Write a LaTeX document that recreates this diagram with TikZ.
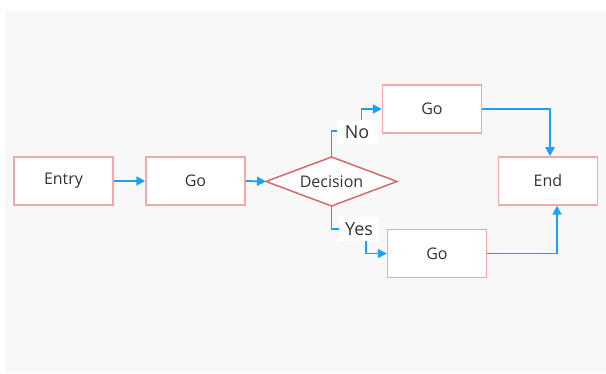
\documentclass[tikz,border=0pt]{standalone}
\usepackage{fontspec}
\setmainfont{Open Sans}
\usetikzlibrary{arrows.meta}
\definecolor{panel}{HTML}{F8F8F8}
\definecolor{boxline}{HTML}{F0A8A8}
\definecolor{diamline}{HTML}{D56A6A}
\definecolor{flow}{HTML}{1BA1F2}
\definecolor{ink}{HTML}{333333}
\tikzset{
  labelfont/.style={font=\fontsize{16}{18}\selectfont, text=ink},
  stepbox/.style={draw=boxline, line width=1.5pt, fill=white, minimum width=99pt, minimum height=48pt, inner sep=0pt, labelfont},
  flowline/.style={draw=flow, line width=1.8pt, -{Triangle[length=9pt,width=9pt]}},
  branch/.style={fill=white, inner sep=0pt, minimum width=40pt, minimum height=24pt, font=\fontsize{18}{20}\selectfont, text=ink}
}
\begin{document}
\begin{tikzpicture}[x=1pt,y=-1pt]
  \useasboundingbox (0,0) rectangle (606,374);
  \fill[white] (0,0) rectangle (606,374);
  \fill[panel] (5,11) rectangle (606,373);

  % process boxes
  \node[stepbox] (entry) at (63.5,181) {Entry};
  \node[stepbox] (go1) at (195.5,181) {Go};
  \node[stepbox] (gotop) at (432,109) {Go};
  \node[stepbox] (gobot) at (437,253.5) {Go};
  \node[stepbox] (end) at (548,181) {End};

  % decision diamond
  \coordinate (dleft) at (266,181.5);
  \coordinate (dtop) at (331.5,157);
  \coordinate (dright) at (397,181.5);
  \coordinate (dbot) at (331.5,206);
  \draw[diamline, line width=1.5pt, fill=white] (dleft) -- (dtop) -- (dright) -- (dbot) -- cycle;
  \node[labelfont] (dec) at (331.5,181.5) {Decision};

  % straight flow
  \draw[flowline] (entry.east) -- (go1.west);
  \draw[flowline] (go1.east) -- (dleft);

  % No branch
  \draw[flowline] (dtop) -- (331.5,131) -- (361.5,131) -- (361.5,109) -- (gotop.west);
  \node[branch] (no) at (357,132) {No};

  % Yes branch
  \draw[flowline] (dbot) -- (331.5,229) -- (366,229) -- (366,253.5) -- (gobot.west);
  \node[branch] (yes) at (359,229) {Yes};

  % into End
  \draw[flowline] (gotop.east) -| ([xshift=2pt]end.north);
  \draw[flowline] (gobot.east) -| ([xshift=9pt]end.south);
\end{tikzpicture}
\end{document}
